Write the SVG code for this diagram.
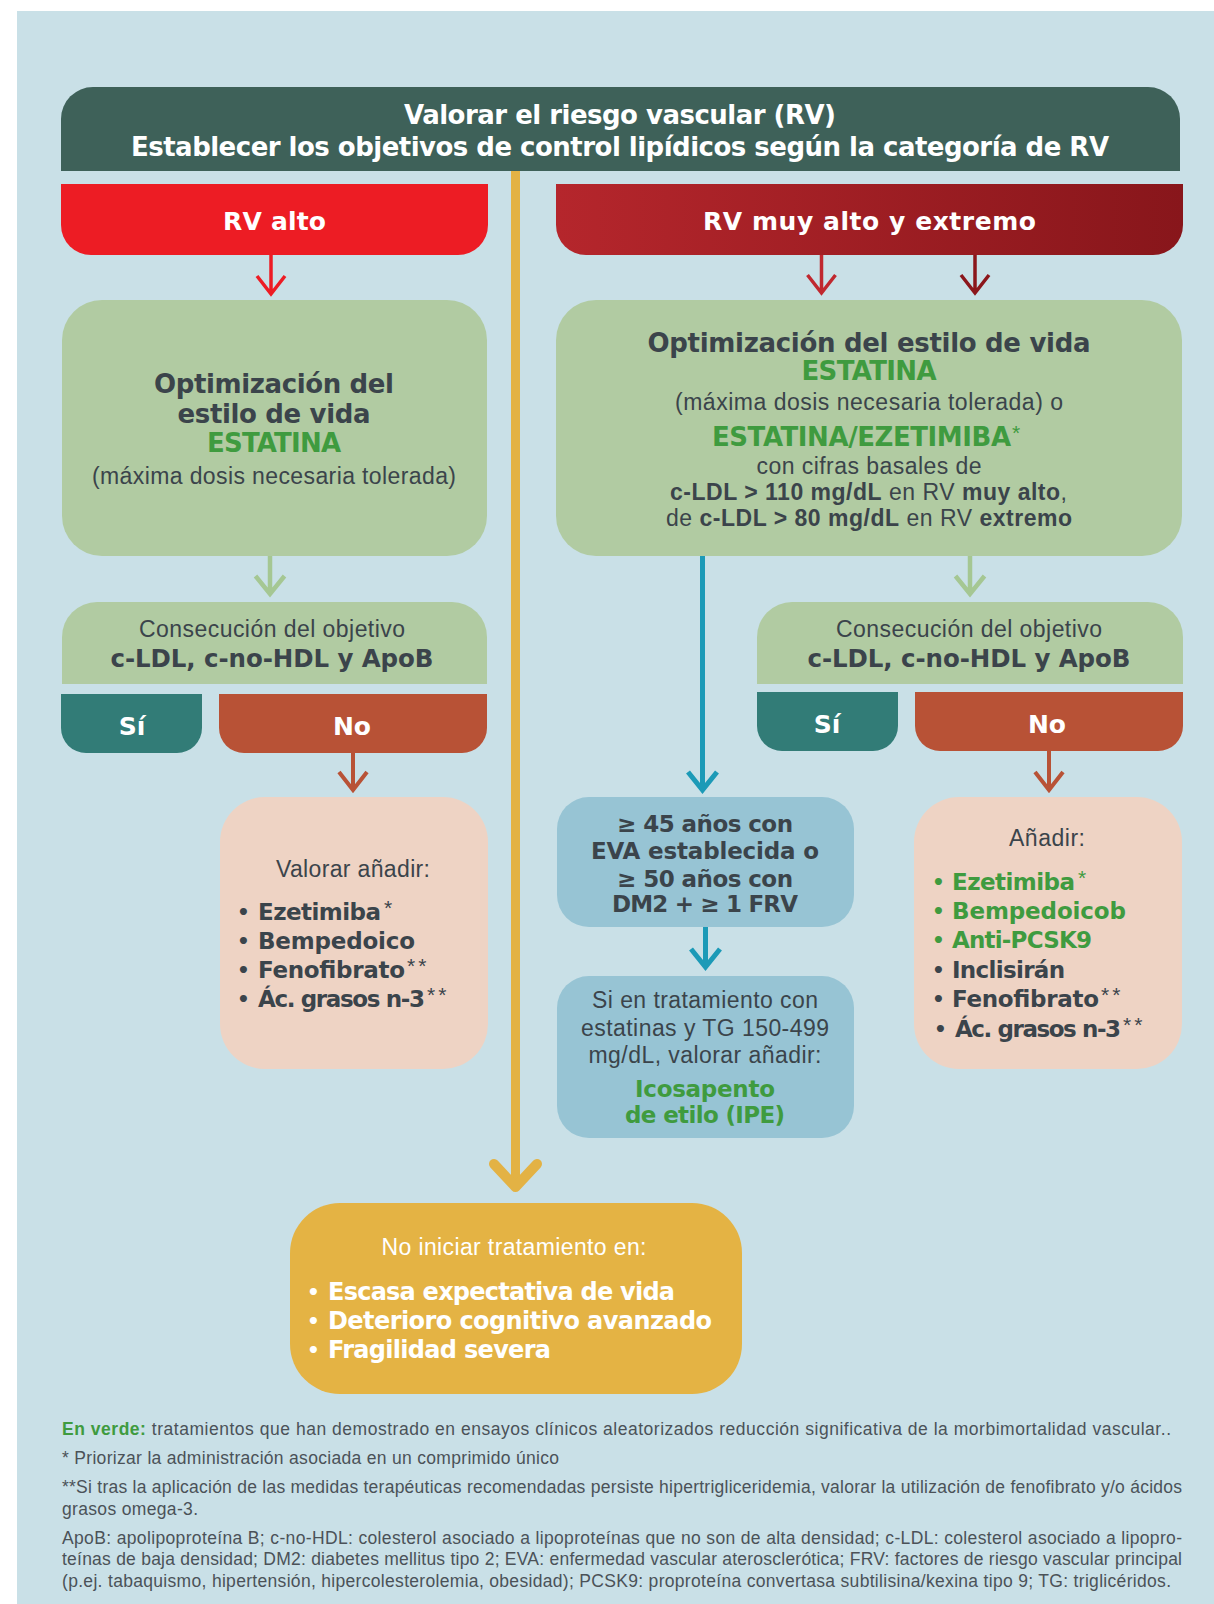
<svg xmlns="http://www.w3.org/2000/svg" width="1214" height="1604" viewBox="0 0 1214 1604">
  <defs>
    <linearGradient id="gradMuyAlto" x1="0" y1="0" x2="1" y2="0">
      <stop offset="0" stop-color="#b5262c"/>
      <stop offset="1" stop-color="#88161b"/>
    </linearGradient>
    <style>
      .b { font-family: "DejaVu Sans", "Liberation Sans", sans-serif; font-weight: bold; }
      .r { font-family: "Liberation Sans", Arial, sans-serif; font-weight: normal; }
      .dark { fill: #3b444b; }
      .green { fill: #3f9b3f; }
      .white { fill: #ffffff; }
      .mid { text-anchor: middle; }
      .note { font-family: "Liberation Sans", Arial, sans-serif; font-size: 17.5px; fill: #4b5258; }
      .ast { font-family: "Liberation Sans", Arial, sans-serif; font-size: 21px; letter-spacing: 3px; }
      .dot { font-family: "DejaVu Sans", sans-serif; font-weight: bold; font-size: 20px; }
      .conn { fill: none; stroke-linecap: butt; stroke-linejoin: miter; }
      .green-box { fill: #b1cba2; }
      .pink-box { fill: #eed3c4; }
      .blue-box { fill: #97c4d4; }
      .si { fill: #327c77; }
      .no { fill: #b85236; }
    </style>
  </defs>

  <!-- page background -->
  <rect x="0" y="0" width="1214" height="1604" fill="#ffffff"/>
  <rect x="17" y="11" width="1197" height="1593" fill="#c9e0e7"/>

  <!-- connectors -->
  <g id="connectors" class="conn">
    <!-- central trunk to the "no iniciar" box -->
    <path d="M515.5,171 V1186" stroke="#e3b244" stroke-width="9"/>
    <path d="M494,1164 L515.5,1187 L537,1164" stroke="#e3b244" stroke-width="10" stroke-linecap="round" stroke-linejoin="round"/>
    <!-- RV alto -> lifestyle -->
    <path d="M271,255 V293 M257,276 L271,294 L285,276" stroke="#ed1c24" stroke-width="3.5"/>
    <!-- RV muy alto -> lifestyle -->
    <path d="M821.5,255 V292 M807.5,275 L821.5,293 L835.5,275" stroke="#c0282f" stroke-width="3.5"/>
    <path d="M975,255 V292 M961,275 L975,293 L989,275" stroke="#8b161b" stroke-width="3.5"/>
    <!-- lifestyle -> goal check -->
    <path d="M270,556 V593 M255.5,576 L270,594 L284.5,576" stroke="#a5c793" stroke-width="4.5"/>
    <path d="M970,556 V593 M955.5,576 L970,594 L984.5,576" stroke="#a5c793" stroke-width="4.5"/>
    <!-- No -> add therapy -->
    <path d="M353,753 V789 M339,772 L353,790 L367,772" stroke="#b85236" stroke-width="4"/>
    <path d="M1049,751 V789 M1035,772 L1049,790 L1063,772" stroke="#b85236" stroke-width="4"/>
    <!-- blue branch -->
    <path d="M702.5,556 V789 M688,772 L702.5,790 L717,772" stroke="#1c9ab7" stroke-width="5"/>
    <path d="M705.5,927 V966 M691,949 L705.5,967 L720,949" stroke="#1c9ab7" stroke-width="5"/>
  </g>

  <!-- header -->
  <g id="header">
    <path d="M61,171 V119 A32,32 0 0 1 93,87 H1148 A32,32 0 0 1 1180,119 V171 Z" fill="#3e6159"/>
    <text class="b white mid" x="620" y="124" font-size="26" textLength="432">Valorar el riesgo vascular (RV)</text>
    <text class="b white mid" x="620" y="156" font-size="26" textLength="978">Establecer los objetivos de control lipídicos según la categoría de RV</text>
  </g>

  <g id="rv-alto">
    <path d="M61,184 H488 V225 A30,30 0 0 1 458,255 H91 A30,30 0 0 1 61,225 Z" fill="#ed1c24"/>
    <text class="b white mid" x="274.5" y="230" font-size="25" textLength="103">RV alto</text>
  </g>

  <g id="rv-muy-alto">
    <path d="M556,184 H1183 V225 A30,30 0 0 1 1153,255 H586 A30,30 0 0 1 556,225 Z" fill="url(#gradMuyAlto)"/>
    <text class="b white mid" x="869.5" y="230" font-size="25" textLength="333">RV muy alto y extremo</text>
  </g>

  <!-- left column -->
  <g id="estilo-vida-alto">
    <rect class="green-box" x="62" y="300" width="425" height="256" rx="40"/>
    <text class="b dark mid" x="274" y="393" font-size="26" textLength="240">Optimización del</text>
    <text class="b dark mid" x="274" y="423" font-size="26" textLength="193">estilo de vida</text>
    <text class="b green mid" x="274" y="452" font-size="26" textLength="134">ESTATINA</text>
    <text class="r dark mid" x="274" y="484" font-size="23" textLength="364">(máxima dosis necesaria tolerada)</text>
  </g>

  <g id="objetivo-alto">
    <path class="green-box" d="M62,684 V637 A35,35 0 0 1 97,602 H452 A35,35 0 0 1 487,637 V684 Z"/>
    <text class="r dark mid" x="272" y="637" font-size="23" textLength="266">Consecución del objetivo</text>
    <text class="b dark mid" x="272" y="667" font-size="24.5" textLength="323">c-LDL, c-no-HDL y ApoB</text>
  </g>

  <g id="si-alto">
    <path class="si" d="M61,694 H202 V728 A25,25 0 0 1 177,753 H86 A25,25 0 0 1 61,728 Z"/>
    <text class="b white mid" x="132" y="735" font-size="25">Sí</text>
  </g>

  <g id="no-alto">
    <path class="no" d="M219,694 H487 V728 A25,25 0 0 1 462,753 H244 A25,25 0 0 1 219,728 Z"/>
    <text class="b white mid" x="352" y="735" font-size="25">No</text>
  </g>

  <g id="anadir-alto">
    <rect class="pink-box" x="220" y="797" width="268" height="272" rx="45"/>
    <text class="r dark mid" x="353" y="877" font-size="23" textLength="154">Valorar añadir:</text>
    <text class="dot dark" x="237" y="919">•</text>
    <text class="dot dark" x="237" y="948">•</text>
    <text class="dot dark" x="237" y="977">•</text>
    <text class="dot dark" x="237" y="1006">•</text>
    <text class="b dark" x="258" y="920" font-size="23" textLength="123">Ezetimiba</text>
    <text class="ast dark" x="384" y="915">*</text>
    <text class="b dark" x="258" y="949" font-size="23" textLength="157">Bempedoico</text>
    <text class="b dark" x="258" y="978" font-size="23" textLength="147">Fenofibrato</text>
    <text class="ast dark" x="407" y="973">**</text>
    <text class="b dark" x="258" y="1007" font-size="23" textLength="167">Ác. grasos n-3</text>
    <text class="ast dark" x="427" y="1002">**</text>
  </g>

  <!-- right column -->
  <g id="estilo-vida-muy-alto">
    <rect class="green-box" x="556" y="300" width="626" height="256" rx="40"/>
    <text class="b dark mid" x="869" y="352" font-size="26" textLength="443">Optimización del estilo de vida</text>
    <text class="b green mid" x="869" y="380" font-size="26" textLength="135">ESTATINA</text>
    <text class="r dark mid" x="869" y="410" font-size="23" textLength="388">(máxima dosis necesaria tolerada) o</text>
    <text class="b green" x="712" y="446" font-size="26" textLength="299">ESTATINA/EZETIMIBA</text>
    <text class="ast green" x="1012" y="440">*</text>
    <text class="r dark mid" x="869" y="474" font-size="23" textLength="225">con cifras basales de</text>
    <text class="r dark" x="670" y="500" font-size="23" textLength="397"><tspan font-weight="bold">c-LDL &gt; 110 mg/dL</tspan> en RV <tspan font-weight="bold">muy alto</tspan>,</text>
    <text class="r dark" x="666" y="526" font-size="23" textLength="406">de <tspan font-weight="bold">c-LDL &gt; 80 mg/dL</tspan> en RV <tspan font-weight="bold">extremo</tspan></text>
  </g>

  <g id="objetivo-muy-alto">
    <path class="green-box" d="M757,684 V637 A35,35 0 0 1 792,602 H1148 A35,35 0 0 1 1183,637 V684 Z"/>
    <text class="r dark mid" x="969" y="637" font-size="23" textLength="266">Consecución del objetivo</text>
    <text class="b dark mid" x="969" y="667" font-size="24.5" textLength="323">c-LDL, c-no-HDL y ApoB</text>
  </g>

  <g id="si-muy-alto">
    <path class="si" d="M757,692 H898 V726 A25,25 0 0 1 873,751 H782 A25,25 0 0 1 757,726 Z"/>
    <text class="b white mid" x="827" y="733" font-size="25">Sí</text>
  </g>

  <g id="no-muy-alto">
    <path class="no" d="M915,692 H1183 V726 A25,25 0 0 1 1158,751 H940 A25,25 0 0 1 915,726 Z"/>
    <text class="b white mid" x="1047" y="733" font-size="25">No</text>
  </g>

  <g id="criterios-edad">
    <rect class="blue-box" x="557" y="797" width="297" height="130" rx="32"/>
    <text class="b dark mid" x="705" y="832" font-size="23" textLength="176">≥ 45 años con</text>
    <text class="b dark mid" x="705" y="859" font-size="23" textLength="228">EVA establecida o</text>
    <text class="b dark mid" x="705" y="887" font-size="23" textLength="176">≥ 50 años con</text>
    <text class="b dark mid" x="705" y="912" font-size="23" textLength="186">DM2 + ≥ 1 FRV</text>
  </g>

  <g id="ipe">
    <rect class="blue-box" x="557" y="976" width="297" height="162" rx="32"/>
    <text class="r dark mid" x="705" y="1008" font-size="23" textLength="226">Si en tratamiento con</text>
    <text class="r dark mid" x="705" y="1036" font-size="23" textLength="248">estatinas y TG 150-499</text>
    <text class="r dark mid" x="705" y="1063" font-size="23" textLength="233">mg/dL, valorar añadir:</text>
    <text class="b green mid" x="705" y="1097" font-size="23" textLength="140">Icosapento</text>
    <text class="b green mid" x="705" y="1123" font-size="23" textLength="160">de etilo (IPE)</text>
  </g>

  <g id="anadir-muy-alto">
    <rect class="pink-box" x="914" y="797" width="268" height="272" rx="45"/>
    <text class="r dark mid" x="1047" y="846" font-size="23" textLength="76">Añadir:</text>
    <text class="dot green" x="932" y="889">•</text>
    <text class="dot green" x="932" y="918">•</text>
    <text class="dot green" x="932" y="947">•</text>
    <text class="dot dark" x="932" y="977">•</text>
    <text class="dot dark" x="932" y="1006">•</text>
    <text class="dot dark" x="934" y="1036">•</text>
    <text class="b green" x="952" y="890" font-size="23" textLength="123">Ezetimiba</text>
    <text class="ast green" x="1078" y="885">*</text>
    <text class="b green" x="952" y="919" font-size="23" textLength="174">Bempedoicob</text>
    <text class="b green" x="952" y="948" font-size="23" textLength="140">Anti-PCSK9</text>
    <text class="b dark" x="952" y="978" font-size="23" textLength="113">Inclisirán</text>
    <text class="b dark" x="952" y="1007" font-size="23" textLength="147">Fenofibrato</text>
    <text class="ast dark" x="1101" y="1002">**</text>
    <text class="b dark" x="955" y="1037" font-size="23" textLength="166">Ác. grasos n-3</text>
    <text class="ast dark" x="1123" y="1032">**</text>
  </g>

  <g id="no-iniciar">
    <rect x="290" y="1203" width="452" height="191" rx="50" fill="#e4b344"/>
    <text class="r white mid" x="514" y="1255" font-size="23" textLength="265">No iniciar tratamiento en:</text>
    <text class="dot white" x="307" y="1299">•</text>
    <text class="dot white" x="307" y="1328">•</text>
    <text class="dot white" x="307" y="1357">•</text>
    <text class="b white" x="328" y="1300" font-size="24" textLength="347">Escasa expectativa de vida</text>
    <text class="b white" x="328" y="1329" font-size="24" textLength="384">Deterioro cognitivo avanzado</text>
    <text class="b white" x="328" y="1358" font-size="24" textLength="223">Fragilidad severa</text>
  </g>

  <!-- notes -->
  <g id="notas">
    <text class="note" x="62" y="1435" textLength="1109"><tspan fill="#3f9b3f" font-weight="bold">En verde:</tspan> tratamientos que han demostrado en ensayos clínicos aleatorizados reducción significativa de la morbimortalidad vascular..</text>
    <text class="note" x="62" y="1464" textLength="497">* Priorizar la administración asociada en un comprimido único</text>
    <text class="note" x="62" y="1493" textLength="1120">**Si tras la aplicación de las medidas terapéuticas recomendadas persiste hipertrigliceridemia, valorar la utilización de fenofibrato y/o ácidos</text>
    <text class="note" x="62" y="1515" textLength="136">grasos omega-3.</text>
    <text class="note" x="62" y="1544" textLength="1120">ApoB: apolipoproteína B; c-no-HDL: colesterol asociado a lipoproteínas que no son de alta densidad; c-LDL: colesterol asociado a lipopro-</text>
    <text class="note" x="62" y="1565" textLength="1120">teínas de baja densidad; DM2: diabetes mellitus tipo 2; EVA: enfermedad vascular aterosclerótica; FRV: factores de riesgo vascular principal</text>
    <text class="note" x="62" y="1587" textLength="1109">(p.ej. tabaquismo, hipertensión, hipercolesterolemia, obesidad); PCSK9: proproteína convertasa subtilisina/kexina tipo 9; TG: triglicéridos.</text>
  </g>
</svg>
